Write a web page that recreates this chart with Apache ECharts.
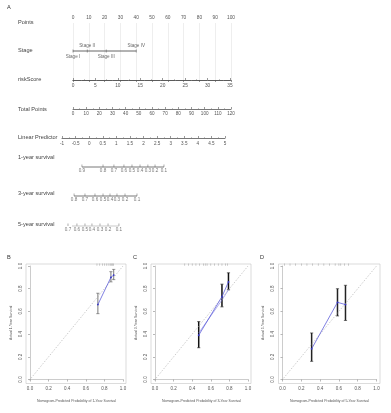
<!DOCTYPE html>
<html><head><meta charset="utf-8">
<script src="https://cdn.jsdelivr.net/npm/echarts@6/dist/echarts.min.js"></script>
<style>html,body{margin:0;padding:0;background:#fff}#c{width:391px;height:413px}</style>
</head><body><div id="c"></div><script>
// ---------------- data ----------------
const pointsTicks = [0,10,20,30,40,50,60,70,80,90,100];
const stageNames = ['Stage I','Stage II','Stage III','Stage IV'];
const stagePoints = [0,9,21,40];
const stageLabelPos = ['bottom','top','bottom','top'];
const riskTicks = [0,5,10,15,20,25,30,35];
const totalTicks = [0,10,20,30,40,50,60,70,80,90,100,110,120];
const lpTicks = [-1,-0.5,0,0.5,1,1.5,2,2.5,3,3.5,4,4.5,5];
const surv1Labels = ['0.9','0.8','0.7','0.6','0.5','0.4','0.3','0.2','0.1'];
const surv1Points = [6.8,22.8,31.1,38.7,44.8,50.9,56.9,62.3,69.1];
const surv3Labels = ['0.8','0.7','0.6','0.5','0.4','0.3','0.2','0.1'];
const surv3Points = [0.8,9.1,16.7,22.8,28.1,33.4,39.5,48.6];
const surv5Labels = ['0.7','0.6','0.5','0.4','0.3','0.2','0.1'];
const surv5Points = [-3.8,3.0,9.1,14.4,20.5,26.6,34.9];

const calTicks = [0,0.2,0.4,0.6,0.8,1.0];
const idealLine = [-0.03, 1.0];
const predB = [0.73,0.87,0.90], obsB = [0.66,0.90,0.92], loB = [0.58,0.86,0.88], hiB = [0.76,0.95,0.97];
const predC = [0.47,0.72,0.79], obsC = [0.39,0.73,0.86], loC = [0.28,0.64,0.79], hiC = [0.51,0.84,0.94];
const corrC = [0.41,0.70,0.79];
const predD = [0.31,0.585,0.67], obsD = [0.27,0.68,0.66], loD = [0.16,0.56,0.52], hiD = [0.41,0.80,0.83];
const rugB = [0.72,0.75,0.78,0.80,0.82,0.84,0.86,0.87,0.88,0.89,0.90];
const rugC = [0.32,0.36,0.40,0.44,0.48,0.52,0.54,0.56,0.60,0.64,0.68,0.72,0.76,0.78];
const rugD = [0.02,0.08,0.14,0.20,0.26,0.32,0.38,0.44,0.50,0.56,0.60,0.62,0.66,0.70];
const yearNames = ['1-Year','3-Year','5-Year'];

// ---------------- helpers ----------------
const FONT = 'Liberation Sans';
const AX = '#555';
const grids = [], xAxes = [], yAxes = [], series = [];
function addGrid(left, top, width, height){
  grids.push({left, top, width, height, containLabel:false, outerBoundsMode:'none'});
  return grids.length - 1;
}
function hiddenY(gi, min, max){
  yAxes.push({gridIndex:gi, type:'value', min, max, show:false});
}
function tickAxis(gi, ticks, opts){
  const o = Object.assign({
    gridIndex:gi, type:'value', min:ticks[0], max:ticks[ticks.length-1],
    interval:ticks[1]-ticks[0], position:'bottom',
    axisLine:{show:true, lineStyle:{color:AX, width:0.8}},
    axisTick:{show:true, inside:true, length:2, lineStyle:{color:AX, width:0.6}},
    minorTick:{show:true, splitNumber:2, length:1, lineStyle:{color:'#888', width:0.5}},
    axisLabel:{fontSize:4.8, color:AX, margin:2.5, fontFamily:FONT},
    splitLine:{show:false}
  }, opts||{});
  xAxes.push(o);
}
// ---------------- nomogram ----------------
// Points row + vertical guide lines down to riskScore
let g = addGrid(73, 23, 158, 57);
tickAxis(g, pointsTicks, {position:'top', axisTick:{show:true, inside:true, length:2, lineStyle:{color:AX,width:0.6}},
  splitLine:{show:true, lineStyle:{color:'#e2e2e2', width:0.6}}});
hiddenY(g, 0, 1);

// Stage row
g = addGrid(73, 46, 158, 10);
xAxes.push({gridIndex:g, type:'value', min:pointsTicks[0], max:pointsTicks[pointsTicks.length-1], show:false});
hiddenY(g, -1, 1);
series.push({type:'line', xAxisIndex:g, yAxisIndex:g, data:stagePoints.map(p=>[p,0]), symbol:'none',
  lineStyle:{color:AX, width:0.9}, silent:true, clip:false});
series.push({type:'scatter', xAxisIndex:g, yAxisIndex:g, symbol:'rect', symbolSize:[0.7,3],
  itemStyle:{color:AX}, clip:false,
  data:stagePoints.map((p,i)=>({value:[p,0], name:stageNames[i],
    label:{position:stageLabelPos[i]}})),
  label:{show:true, formatter:p=>p.name, fontSize:4.6, color:'#444', distance:1.5, fontFamily:FONT}});

// riskScore
g = addGrid(73, 79, 157, 1);
tickAxis(g, riskTicks, {axisLabel:{fontSize:4.8, color:AX, margin:3, fontFamily:FONT}});
hiddenY(g, 0, 1);

// Total Points
g = addGrid(73, 108, 158, 1);
tickAxis(g, totalTicks, {axisLabel:{fontSize:4.6, color:AX, margin:2.5, fontFamily:FONT}});
hiddenY(g, 0, 1);

// Linear Predictor
g = addGrid(62, 137, 163, 1);
tickAxis(g, lpTicks, {axisLabel:{fontSize:4.6, color:AX, margin:3, fontFamily:FONT}});
hiddenY(g, 0, 1);

// survival rows (positions in total points)
function survRow(lineY, pts, labels, lineColor){
  const gi = addGrid(73, lineY-5, 158, 10);
  xAxes.push({gridIndex:gi, type:'value', min:totalTicks[0], max:totalTicks[totalTicks.length-1], show:false});
  hiddenY(gi, -1, 1);
  series.push({type:'line', xAxisIndex:gi, yAxisIndex:gi, data:pts.map(p=>[p,0]), symbol:'none',
    lineStyle:{color:lineColor, width:0.8}, silent:true, clip:false});
  series.push({type:'scatter', xAxisIndex:gi, yAxisIndex:gi, symbol:'rect', symbolSize:[0.6,2.4],
    symbolOffset:[0,-1.2], itemStyle:{color:AX}, clip:false,
    data:pts.map((p,i)=>({value:[p,0], name:labels[i]})),
    label:{show:true, position:'bottom', distance:1.6, formatter:p=>p.name, fontSize:4.6, color:AX, fontFamily:FONT}});
}
survRow(167, surv1Points, surv1Labels, AX);
survRow(196, surv3Points, surv3Labels, AX);
survRow(226, surv5Points, surv5Labels, '#bbb');

// ---------------- calibration plots ----------------
function errRender(color, lw){
  return function(params, api){
    const x = api.value(0), lo = api.value(1), hi = api.value(2);
    const a = api.coord([x, lo]), b = api.coord([x, hi]);
    const cap = 1.6, st = {stroke:color, lineWidth:lw};
    return {type:'group', children:[
      {type:'line', shape:{x1:a[0], y1:a[1], x2:b[0], y2:b[1]}, style:st},
      {type:'line', shape:{x1:a[0]-cap, y1:a[1], x2:a[0]+cap, y2:a[1]}, style:{stroke:color, lineWidth:0.6}},
      {type:'line', shape:{x1:b[0]-cap, y1:b[1], x2:b[0]+cap, y2:b[1]}, style:{stroke:color, lineWidth:0.6}}
    ]};
  };
}
function calPlot(left, width, yr, pred, obs, lo, hi, rug, errColor, errW, corr){
  const gi = addGrid(left, 266, width, 113.5);
  const common = {gridIndex:gi, type:'value', min:calTicks[0], max:calTicks[calTicks.length-1],
    interval:calTicks[1]-calTicks[0], offset:4,
    axisLine:{show:true, lineStyle:{color:'#aaa', width:0.6}},
    axisTick:{show:true, length:2, lineStyle:{color:'#888', width:0.6}},
    splitLine:{show:false},
    nameLocation:'middle', nameTextStyle:{fontSize:3.5, color:'#555', fontFamily:FONT}};
  xAxes.push(Object.assign({}, common, {position:'bottom', name:'Nomogram-Predicted Probability of '+yr+' Survival', nameGap:15.5,
    axisLabel:{fontSize:4.5, color:AX, margin:3, formatter:v=>v.toFixed(1), fontFamily:FONT}}));
  yAxes.push(Object.assign({}, common, {position:'left', name:'Actual '+yr+' Survival', nameGap:13,
    axisLabel:{fontSize:4.5, color:AX, margin:3, rotate:90, formatter:v=>v.toFixed(1), fontFamily:FONT}}));
  series.push({type:'line', xAxisIndex:gi, yAxisIndex:gi, data:idealLine.map(v=>[v,v]), symbol:'none',
    lineStyle:{color:'#aaa', width:0.6, type:[1.5,1.5]}, silent:true, clip:false});
  series.push({type:'custom', xAxisIndex:gi, yAxisIndex:gi, renderItem:errRender(errColor, errW),
    data:pred.map((p,i)=>[p, lo[i], hi[i]]), clip:false});
  if (corr) series.push({type:'line', xAxisIndex:gi, yAxisIndex:gi, data:pred.map((p,i)=>[p, corr[i]]),
    symbol:'none', lineStyle:{color:'#7a7ae0', width:0.6}, clip:false});
  series.push({type:'line', xAxisIndex:gi, yAxisIndex:gi, data:pred.map((p,i)=>[p, obs[i]]),
    symbol:'circle', symbolSize:1.8, itemStyle:{color:'#3434c8'}, lineStyle:{color:'#4a4ad6', width:0.7}, clip:false});
  series.push({type:'scatter', xAxisIndex:gi, yAxisIndex:gi, data:rug.map(v=>[v, 1.012]), symbol:'rect',
    symbolSize:[0.6,2.4], itemStyle:{color:'#999'}, clip:false, silent:true});
}
calPlot(30, 93, yearNames[0], predB, obsB, loB, hiB, rugB, '#555', 0.8, null);
calPlot(155, 93, yearNames[1], predC, obsC, loC, hiC, rugC, '#111', 1.5, corrC);
calPlot(282.5, 94, yearNames[2], predD, obsD, loD, hiD, rugD, '#222', 1.5, null);

// ---------------- static graphics (labels, frames) ----------------
const rowLabels = [['Points',23],['Stage',51],['riskScore',80],['Total Points',110],['Linear Predictor',138],
  ['1-year survival',158],['3-year survival',194],['5-year survival',225]];
const graphic = [];
rowLabels.forEach(([t,y])=>graphic.push({type:'text', left:18, top:y-3.5,
  style:{text:t, font:'5.6px "'+FONT+'"', fill:'#444'}}));
[['A',7,4],['B',7,254],['C',133,254],['D',260,254]].forEach(([t,x,y])=>graphic.push({type:'text', left:x, top:y,
  style:{text:t, font:'5.6px "'+FONT+'"', fill:'#333'}}));
[[26,264,100,119.5],[151,264,100,119.5],[278.5,264,101.5,119.5]].forEach(([x,y,w,h])=>graphic.push({type:'rect',
  shape:{x,y,width:w,height:h}, style:{fill:null, stroke:'#c4c4c4', lineWidth:0.6}, silent:true}));

const chart = echarts.init(document.getElementById('c'), null, {renderer:'canvas'});
chart.setOption({
  animation:false,
  textStyle:{fontFamily:FONT},
  grid:grids, xAxis:xAxes, yAxis:yAxes, series, graphic
});
</script></body></html>
